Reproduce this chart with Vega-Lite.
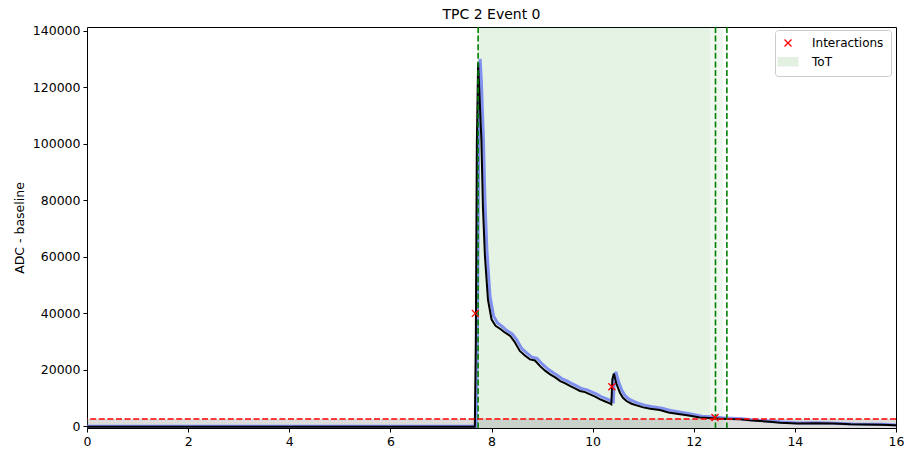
{
  "$schema": "https://vega.github.io/schema/vega-lite/v6.json",
  "width": 809,
  "height": 401,
  "autosize": "none",
  "padding": {"left": 87, "top": 27, "right": 8, "bottom": 23},
  "background": "white",
  "config": {
    "view": {"stroke": "black", "strokeWidth": 1},
    "font": "DejaVu Sans",
    "axis": {"grid": false, "domain": false, "tickColor": "black", "tickSize": 4, "labelColor": "black", "labelFontSize": 12.5, "labelFont": "DejaVu Sans", "titleFont": "DejaVu Sans", "titleFontWeight": "normal", "titleFontSize": 12.5, "titleColor": "black", "labelPadding": 3, "labelFlush": false}
  },
  "title": {"text": "TPC 2 Event 0", "fontSize": 14, "fontWeight": "normal", "font": "DejaVu Sans", "color": "black", "offset": 3, "anchor": "middle"},
  "datasets": {
    "black": [
      {"t": 0, "v": -250}, {"t": 7.67, "v": -250}, {"t": 7.69, "v": 30000}, {"t": 7.71, "v": 100000}, {"t": 7.735, "v": 128600},
      {"t": 7.8, "v": 101500}, {"t": 7.83, "v": 77900}, {"t": 7.87, "v": 60200}, {"t": 7.93, "v": 44800}, {"t": 8.0, "v": 37800},
      {"t": 8.08, "v": 35500}, {"t": 8.19, "v": 34200}, {"t": 8.25, "v": 33300}, {"t": 8.37, "v": 31900}, {"t": 8.45, "v": 30000},
      {"t": 8.56, "v": 26600}, {"t": 8.66, "v": 25000}, {"t": 8.76, "v": 23600}, {"t": 8.86, "v": 23200}, {"t": 8.96, "v": 21200},
      {"t": 9.06, "v": 19600}, {"t": 9.16, "v": 18300}, {"t": 9.26, "v": 17200}, {"t": 9.36, "v": 15900}, {"t": 9.45, "v": 15200},
      {"t": 9.55, "v": 14200}, {"t": 9.65, "v": 13300}, {"t": 9.75, "v": 12400}, {"t": 9.85, "v": 12000}, {"t": 9.95, "v": 11200},
      {"t": 10.05, "v": 10400}, {"t": 10.15, "v": 9450}, {"t": 10.25, "v": 8700}, {"t": 10.34, "v": 8000}, {"t": 10.37, "v": 7700},
      {"t": 10.39, "v": 16500}, {"t": 10.42, "v": 18600}, {"t": 10.47, "v": 15000}, {"t": 10.54, "v": 11800}, {"t": 10.6, "v": 10000},
      {"t": 10.67, "v": 8850}, {"t": 10.77, "v": 7900}, {"t": 10.87, "v": 7300}, {"t": 11.0, "v": 6600}, {"t": 11.14, "v": 6150},
      {"t": 11.33, "v": 5650}, {"t": 11.5, "v": 4800}, {"t": 11.73, "v": 4150}, {"t": 11.9, "v": 3700}, {"t": 12.12, "v": 3000},
      {"t": 12.3, "v": 2800}, {"t": 12.52, "v": 2600}, {"t": 12.7, "v": 2450}, {"t": 12.92, "v": 2370}, {"t": 13.1, "v": 2000},
      {"t": 13.31, "v": 1770}, {"t": 13.5, "v": 1500}, {"t": 13.71, "v": 1200}, {"t": 14.04, "v": 900}, {"t": 14.4, "v": 950},
      {"t": 14.76, "v": 850}, {"t": 15.1, "v": 600}, {"t": 15.4, "v": 500}, {"t": 15.7, "v": 450}, {"t": 16, "v": 250}
    ],
    "blue": [
      {"t": 0, "v": -100}, {"t": 7.7, "v": -100}, {"t": 7.72, "v": 30000}, {"t": 7.745, "v": 100000}, {"t": 7.775, "v": 130000},
      {"t": 7.8, "v": 122000}, {"t": 7.84, "v": 102000}, {"t": 7.87, "v": 80000}, {"t": 7.91, "v": 62000}, {"t": 7.97, "v": 46000},
      {"t": 8.04, "v": 39000}, {"t": 8.12, "v": 36500}, {"t": 8.23, "v": 35000}, {"t": 8.29, "v": 34000}, {"t": 8.41, "v": 32600},
      {"t": 8.49, "v": 30800}, {"t": 8.6, "v": 27400}, {"t": 8.7, "v": 25800}, {"t": 8.8, "v": 24400}, {"t": 8.9, "v": 24000},
      {"t": 9.0, "v": 22000}, {"t": 9.1, "v": 20400}, {"t": 9.2, "v": 19100}, {"t": 9.3, "v": 18000}, {"t": 9.4, "v": 16700},
      {"t": 9.49, "v": 16000}, {"t": 9.59, "v": 15000}, {"t": 9.69, "v": 14100}, {"t": 9.79, "v": 13200}, {"t": 9.89, "v": 12800},
      {"t": 9.99, "v": 12000}, {"t": 10.09, "v": 11200}, {"t": 10.19, "v": 10200}, {"t": 10.29, "v": 9500}, {"t": 10.38, "v": 8800},
      {"t": 10.41, "v": 8600}, {"t": 10.43, "v": 17000}, {"t": 10.46, "v": 19200}, {"t": 10.51, "v": 15800}, {"t": 10.58, "v": 12600},
      {"t": 10.64, "v": 10800}, {"t": 10.71, "v": 9600}, {"t": 10.81, "v": 8700}, {"t": 10.91, "v": 8000}, {"t": 11.04, "v": 7300},
      {"t": 11.18, "v": 6800}, {"t": 11.37, "v": 6300}, {"t": 11.54, "v": 5500}, {"t": 11.77, "v": 4800}, {"t": 11.94, "v": 4300},
      {"t": 12.16, "v": 3500}, {"t": 12.34, "v": 3300}, {"t": 12.56, "v": 2900}, {"t": 12.74, "v": 2750}, {"t": 12.96, "v": 2600},
      {"t": 13.14, "v": 2250}, {"t": 13.35, "v": 2000}, {"t": 13.54, "v": 1700}, {"t": 13.75, "v": 1400}, {"t": 14.08, "v": 1100},
      {"t": 14.44, "v": 1150}, {"t": 14.8, "v": 1000}, {"t": 15.14, "v": 750}, {"t": 15.44, "v": 650}, {"t": 15.74, "v": 600}, {"t": 16, "v": 400}
    ],
    "inter": [
      {"t": 7.68, "v": 39900, "series": "Interactions"},
      {"t": 10.38, "v": 13900, "series": "Interactions"},
      {"t": 12.42, "v": 3000, "series": "Interactions"}
    ],
    "tot": [
      {"start": 7.735, "end": 12.58, "op": 0.06},
      {"start": 7.735, "end": 12.32, "op": 0.045}
    ],
    "band": [{"lo": -2500, "hi": 2500}],
    "vlines": [{"x": 7.735}, {"x": 12.43}, {"x": 12.655}],
    "hline": [{"y": 2500}]
  },
  "encoding": {
    "x": {"type": "quantitative"},
    "y": {"type": "quantitative"}
  },
  "layer": [
    {
      "data": {"name": "tot"},
      "mark": {"type": "rect", "color": "#008000"},
      "encoding": {
        "x": {"field": "start", "type": "quantitative", "scale": {"domain": [0, 16], "nice": false, "zero": false}, "axis": {"values": [0, 2, 4, 6, 8, 10, 12, 14, 16], "title": null, "format": "d"}},
        "x2": {"field": "end"},
        "opacity": {"field": "op", "type": "quantitative", "scale": null, "legend": null}
      }
    },
    {
      "data": {"name": "band"},
      "mark": {"type": "rect", "color": "gray", "opacity": 0.28, "clip": true},
      "encoding": {
        "y": {"field": "lo", "type": "quantitative", "scale": {"domain": [-700, 141300], "nice": false, "zero": false}, "axis": {"values": [0, 20000, 40000, 60000, 80000, 100000, 120000, 140000], "format": "d", "title": "ADC - baseline", "titlePadding": 6}},
        "y2": {"field": "hi"}
      }
    },
    {
      "data": {"name": "blue"},
      "mark": {"type": "line", "color": "#6677f0", "strokeWidth": 3, "opacity": 0.8, "clip": true},
      "encoding": {"x": {"field": "t", "type": "quantitative"}, "y": {"field": "v", "type": "quantitative"}}
    },
    {
      "data": {"name": "black"},
      "mark": {"type": "line", "color": "black", "strokeWidth": 2, "clip": true},
      "encoding": {"x": {"field": "t", "type": "quantitative"}, "y": {"field": "v", "type": "quantitative"}}
    },
    {
      "data": {"name": "vlines"},
      "mark": {"type": "rule", "color": "#008000", "strokeWidth": 1.6, "strokeDash": [6, 2.6]},
      "encoding": {"x": {"field": "x", "type": "quantitative"}}
    },
    {
      "data": {"name": "hline"},
      "mark": {"type": "rule", "color": "red", "strokeWidth": 1.6, "strokeDash": [6, 2.6]},
      "encoding": {"y": {"field": "y", "type": "quantitative"}}
    },
    {
      "data": {"name": "inter"},
      "mark": {"type": "point", "filled": false, "strokeWidth": 1.3, "opacity": 1},
      "encoding": {
        "x": {"field": "t", "type": "quantitative"},
        "y": {"field": "v", "type": "quantitative"},
        "size": {"value": 100},
        "shape": {
          "field": "series", "type": "nominal",
          "scale": {"domain": ["Interactions", "ToT"], "range": ["M-0.7,-0.7L0.7,0.7M-0.7,0.7L0.7,-0.7", "M-2.1,-0.85L2.1,-0.85M-2.1,-0.62L2.1,-0.62M-2.1,-0.39L2.1,-0.39M-2.1,-0.16L2.1,-0.16M-2.1,0.07L2.1,0.07M-2.1,0.3L2.1,0.3M-2.1,0.53L2.1,0.53M-2.1,0.76L2.1,0.76"]},
          "legend": null
        },
        "color": {
          "field": "series", "type": "nominal",
          "scale": {"domain": ["Interactions", "ToT"], "range": ["red", "#e3f1e3"]},
          "legend": {
            "title": null, "orient": "none", "legendX": 688, "legendY": 3,
            "padding": 7, "strokeColor": "#cccccc", "fillColor": "white", "cornerRadius": 3,
            "labelFontSize": 12, "labelFont": "DejaVu Sans", "labelColor": "black",
            "rowPadding": 5, "symbolSize": 100, "labelOffset": 18, "symbolStrokeWidth": 1.3
          }
        }
      }
    }
  ]
}
